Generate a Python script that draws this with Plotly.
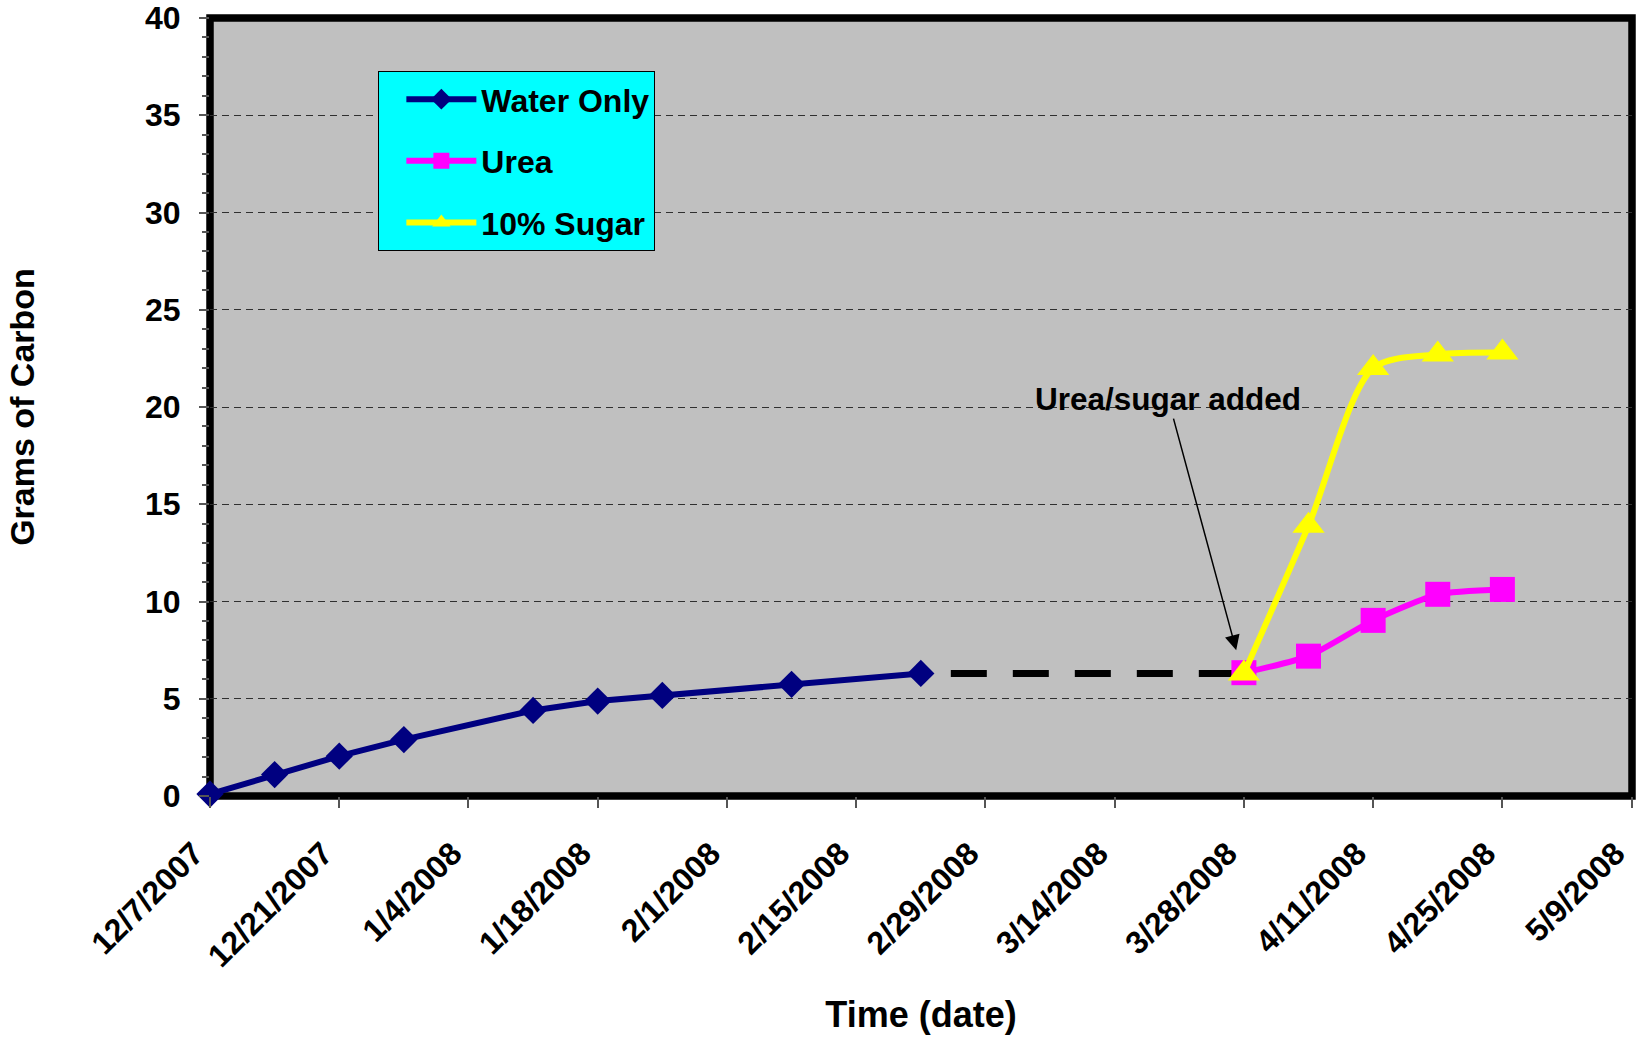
import plotly.graph_objects as go

# ---- data ----
water_dates = ["2007-12-07", "2007-12-14", "2007-12-21", "2007-12-28", "2008-01-11",
               "2008-01-18", "2008-01-25", "2008-02-08", "2008-02-22"]
water_vals = [0.1, 1.1, 2.05, 2.9, 4.4, 4.88, 5.17, 5.74, 6.3]

gap_dates = ["2008-02-22", "2008-03-28"]
gap_vals = [6.3, 6.3]

urea_dates = ["2008-03-28", "2008-04-04", "2008-04-11", "2008-04-18", "2008-04-25"]
urea_vals = [6.34, 7.19, 9.03, 10.37, 10.62]

sugar_dates = ["2008-03-28", "2008-04-04", "2008-04-11", "2008-04-18", "2008-04-25"]
sugar_vals = [6.3, 13.9, 22.0, 22.7, 22.8]

x_range = ["2007-12-07", "2008-05-09 01:00"]
y_range = [0, 40]

annot_text = "Urea/sugar added"
annot_x = "2008-03-27 04:00"
annot_y = 7.5

FONT = "Liberation Sans, Arial, sans-serif"

fig = go.Figure()

fig.add_trace(go.Scatter(
    x=gap_dates, y=gap_vals, mode="lines", showlegend=False,
    line=dict(color="black", width=7,
              dash="0px,30px,36px,26px,36px,26px,36px,26px,36px,26px,36px,60px"),
    cliponaxis=False, hoverinfo="skip"))

fig.add_trace(go.Scatter(
    x=water_dates, y=water_vals, mode="lines+markers", name="Water Only",
    legendgroup="a",
    line=dict(color="#000080", width=6),
    marker=dict(symbol="diamond", size=21, color="#000080"),
    cliponaxis=False))

fig.add_trace(go.Scatter(
    x=urea_dates, y=urea_vals, mode="lines+markers", name="Urea",
    legendgroup="b",
    line=dict(color="#FF00FF", width=6, shape="spline", smoothing=0.6),
    marker=dict(symbol="square", size=25, color="#FF00FF"),
    cliponaxis=False))

fig.add_trace(go.Scatter(
    x=sugar_dates, y=sugar_vals, mode="lines+markers", name="10% Sugar",
    legendgroup="c",
    line=dict(color="#FFFF00", width=6, shape="spline", smoothing=0.8),
    marker=dict(symbol="triangle-up", size=28, color="#FFFF00"),
    cliponaxis=False))

fig.add_shape(type="rect", xref="paper", yref="paper", x0=0, x1=1, y0=0, y1=1,
              line=dict(color="black", width=7.5), layer="below")

fig.add_annotation(
    x=annot_x, y=annot_y, text="<b>" + annot_text + "</b>",
    font=dict(family=FONT, size=31.5, color="black"),
    showarrow=True, ax=-68, ay=-251, arrowhead=2, arrowsize=2,
    arrowwidth=1.5, arrowcolor="black")

fig.update_layout(
    width=1636, height=1042,
    margin=dict(l=210, r=4, t=18, b=246),
    paper_bgcolor="white", plot_bgcolor="#C0C0C0",
    font=dict(family=FONT, color="black"),
    showlegend=True,
    legend=dict(
        x=0.1184, y=0.932, xanchor="left", yanchor="top",
        bgcolor="#00FFFF", bordercolor="black", borderwidth=1,
        font=dict(family=FONT, size=32, color="black", weight="bold"),
        tracegroupgap=17, itemwidth=70, indentation=22,
    ),
)

fig.update_xaxes(
    type="date", range=x_range, tick0="2007-12-07", dtick=14 * 86400000,
    tickformat="%-m/%-d/%Y", tickangle=-45,
    tickfont=dict(family=FONT, size=32, color="black", weight="bold"),
    ticks="outside", ticklen=11, tickwidth=1.5, tickcolor="#555555",
    ticklabelstandoff=14, ticklabelshift=-16, ticklabeloverflow="allow",
    showgrid=False, zeroline=False, showline=False,
    title=dict(text="Time (date)", font=dict(family=FONT, size=36, color="black", weight="bold"),
               standoff=28),
    automargin=False,
)

fig.update_yaxes(
    range=y_range, dtick=5, tick0=0,
    tickfont=dict(family=FONT, size=32, color="black", weight="bold"),
    ticks="outside", ticklen=10, tickwidth=1.5, tickcolor="#555555",
    ticklabelstandoff=12,
    minor=dict(dtick=1, ticks="outside", ticklen=7, tickwidth=1.5, tickcolor="#555555", showgrid=False),
    showgrid=True, gridcolor="#303030", gridwidth=1, griddash="7px,5px",
    zeroline=False, showline=False,
    title=dict(text="Grams of Carbon", font=dict(family=FONT, size=34, color="black", weight="bold"),
               standoff=100),
    automargin=False,
)

fig.write_html("out.html")
